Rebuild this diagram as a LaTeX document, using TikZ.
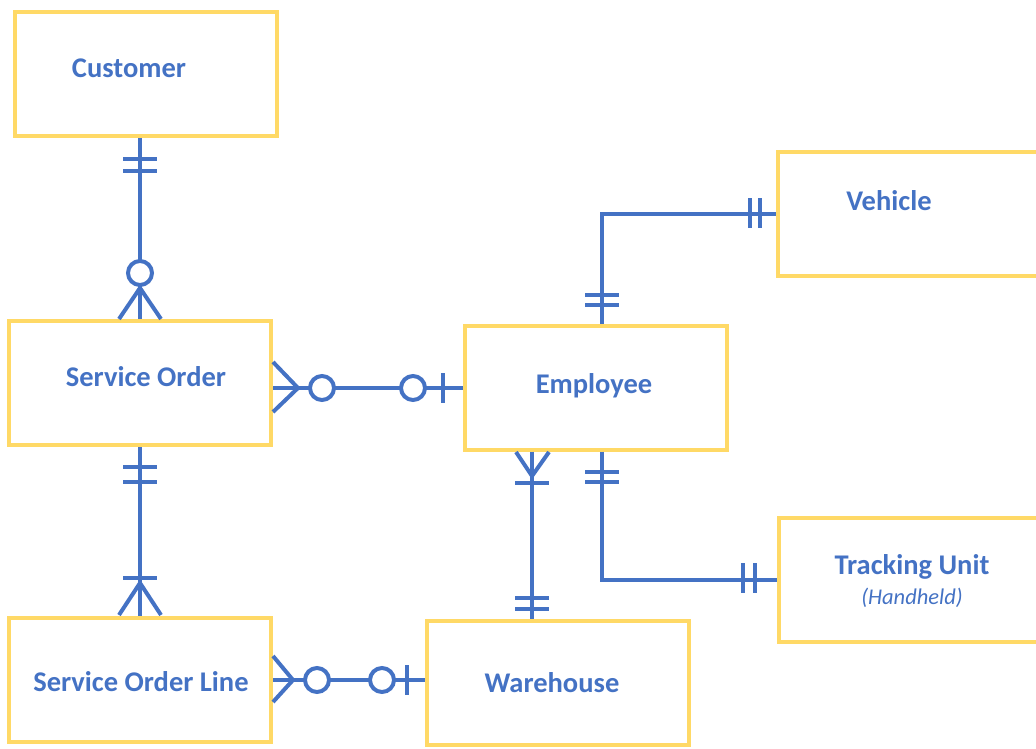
\documentclass[tikz,border=0pt]{standalone}
\usepackage{fontspec}
\setmainfont{Carlito}
\usepackage{tikz}
\definecolor{erblue}{HTML}{4472C4}
\definecolor{eryellow}{HTML}{FFD966}

\begin{document}
\begin{tikzpicture}[x=1pt,y=-1pt,
  entity/.style={draw=eryellow,line width=4pt,minimum width=262pt,minimum height=124pt,inner sep=0pt},
  rel/.style={draw=erblue,line width=4pt},
  lbl/.style={text=erblue,font=\fontsize{28.5}{32}\selectfont\bfseries,inner sep=0pt}]
\useasboundingbox (0,0) rectangle (1036,749);
\clip (0,0) rectangle (1036,749);
\node[entity] (cust) at (146,74) {};
\node[entity] (sord) at (140,383) {};
\node[entity] (sol) at (140,680) {};
\node[entity] (emp) at (595.5,387.5) {};
\node[entity] (wh) at (558,682.5) {};
\node[entity,minimum width=270pt] (veh) at (913,214) {};
\node[entity,minimum width=270pt] (trk) at (914,580) {};
\node[lbl] (custtxt) at (129,68) {Customer};
\node[lbl] (sordtxt) at (146,377) {Service Order};
\node[lbl] (soltxt) at (141,682) {Service Order Line};
\node[lbl] (emptxt) at (594,386) {Employee};
\node[lbl] (whtxt) at (552,683) {Warehouse};
\node[lbl] (vehtxt) at (889,201) {Vehicle};
\node[lbl] (trktxt) at (912,567) {Tracking Unit};
\node[text=erblue,font=\fontsize{22.5}{26}\selectfont\itshape,inner sep=0pt] (trksub) at (912,598) {(Handheld)};
\draw[rel] (cust.south -| sord.north) -- (sord.north);
\foreach \y in {159,171} \draw[rel] (123,\y) -- (157,\y);
\draw[rel] (119,319) -- (140,288) -- (161,319);
\draw[rel,fill=white] (140,273) circle (12);
\draw[rel] (sord.east |- emp.west) -- (emp.west);
\draw[rel] (273,362) -- (298,388) -- (273,412);
\draw[rel,fill=white] (322,388) circle (12);
\draw[rel,fill=white] (413,388) circle (12);
\draw[rel] (443,373) -- (443,403);
\draw[rel] (sord.south) -- (sol.north);
\foreach \y in {467,482} \draw[rel] (123,\y) -- (157,\y);
\draw[rel] (123,578) -- (157,578);
\draw[rel] (119,615) -- (140,583) -- (161,615);
\draw[rel] (sol.east) -- (sol.east -| wh.west);
\draw[rel] (273,656) -- (293,680) -- (273,702);
\draw[rel,fill=white] (317,680) circle (12);
\draw[rel,fill=white] (382,680) circle (12);
\draw[rel] (407,665) -- (407,695);
\draw[rel] (emp.south -| 532,0) -- (wh.north -| 532,0);
\draw[rel] (516,452) -- (532,476) -- (549,452);
\draw[rel] (515,483) -- (549,483);
\foreach \y in {598,609} \draw[rel] (515,\y) -- (549,\y);
\draw[rel] (emp.south -| 602,0) |- (trk.west);
\foreach \y in {472,482} \draw[rel] (585,\y) -- (619,\y);
\foreach \x in {743,755} \draw[rel] (\x,563) -- (\x,593);
\draw[rel] (emp.north -| 602,0) |- (veh.west);
\foreach \y in {295,305} \draw[rel] (585,\y) -- (619,\y);
\foreach \x in {750,760} \draw[rel] (\x,198) -- (\x,228);
\end{tikzpicture}
\end{document}
